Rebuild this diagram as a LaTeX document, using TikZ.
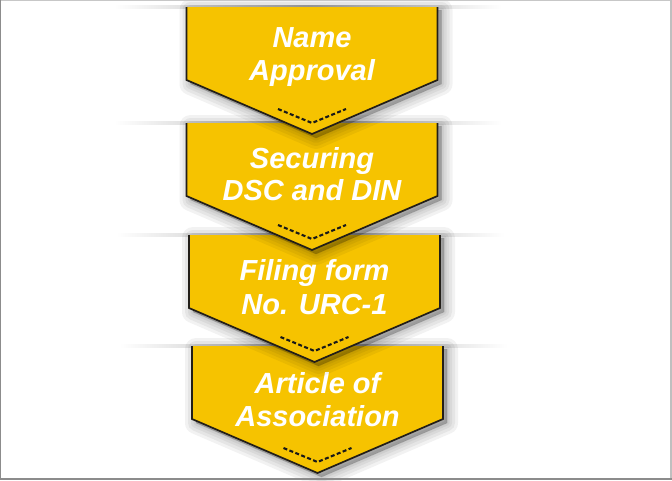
\documentclass[tikz,border=0pt]{standalone}
\usepackage{fontspec}
\setmainfont{Liberation Sans}
\usetikzlibrary{calc}
\definecolor{stepyellow}{HTML}{F6C300}
\definecolor{stepedge}{HTML}{221E18}
\tikzset{
  stepfill/.style={fill=stepyellow},
  stepline/.style={draw=stepedge, line width=1.7pt, line join=miter},
  stepshadow/.style={fill=black, draw=black, opacity=0.05, line join=round},
  steptext/.style={text=white, font=\fontsize{29}{32}\selectfont\bfseries\itshape, anchor=base, inner sep=0pt},
  stepdash/.style={draw=black!90, line width=2.1pt, dash pattern=on 4pt off 2.4pt},
  bandline/.style={left color=white, right color=white, middle color=black!32},
}
% #1 name, #2 cx, #3 top, #4 baseline1, #5 baseline2, #6 text1, #7 text2
\newcommand\stepchev[7]{%
  \shade[bandline] (#2-198,#3-1.5) rectangle (#2+190,#3+1.2);
  \foreach \w in {22,16,10,5,1}{
    \filldraw[stepshadow, line width=\w pt] (#2-125.5+4,#3+3) -- (#2+125.5+4,#3+3) -- (#2+125.5+4,#3+73+4) -- (#2+4,#3+127+4) -- (#2-125.5+4,#3+73+4) -- cycle;
  }
  \fill[stepfill] (#2-125.5,#3) -- (#2+125.5,#3) -- (#2+125.5,#3+73) -- (#2,#3+127) -- (#2-125.5,#3+73) -- cycle;
  \draw[stepline] (#2-125.5,#3) -- (#2-125.5,#3+73) -- (#2,#3+127) -- (#2+125.5,#3+73) -- (#2+125.5,#3);
  \draw[stepdash] (#2-34,#3+102) -- (#2,#3+116) -- (#2+34,#3+102);
  \node[steptext] (#1a) at (#2,#4) {#6};
  \node[steptext] (#1b) at (#2,#5) {#7};
}
\begin{document}
\begin{tikzpicture}[x=1pt,y=-1pt]
  \useasboundingbox (0,0) rectangle (672,480);
  \fill[white] (0,0) rectangle (672,480);
  \stepchev{s4}{317.5}{346}{393}{426}{Article of}{Association}
  \stepchev{s3}{314.5}{235}{280}{314}{Filing form}{No. URC-1}
  \stepchev{s2}{312}{123}{168}{200}{Securing}{DSC and DIN}
  \stepchev{s1}{312}{7}{47.5}{80}{Name}{Approval}
  % slide frame
  \draw[black!22, line width=1pt] (0,0.5) -- (671,0.5);
  \draw[black!25, line width=1.2pt] (671,0) -- (671,479);
  \draw[black!45, line width=1.2pt] (0.6,0) -- (0.6,479);
  \draw[black!45, line width=2pt] (0,478.8) -- (672,478.8);
\end{tikzpicture}
\end{document}
